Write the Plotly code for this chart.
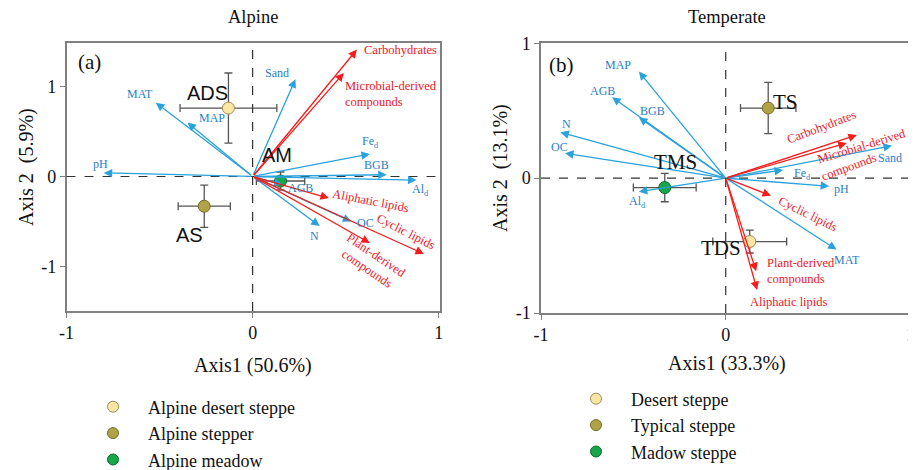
import plotly.graph_objects as go

# ---------------- data ----------------
# Alpine panel (a)
alp_env_names = ["pH", "MAT", "MAP", "Sand", "Fe<sub>d</sub>", "BGB", "Al<sub>d</sub>", "AGB", "N", "OC"]
alp_env_x = [-0.80, -0.52, -0.35, 0.23, 0.63, 0.72, 0.88, 0.16, 0.36, 0.53]
alp_env_y = [0.04, 0.82, 0.60, 1.08, 0.25, 0.02, -0.04, -0.09, -0.55, -0.50]

alp_som_names = ["Carbohydrates", "Microbial-derived compounds", "Aliphatic lipids", "Cyclic lipids", "Plant-derived compounds"]
alp_som_x = [0.56, 0.49, 0.41, 0.92, 0.63]
alp_som_y = [1.41, 1.15, -0.24, -0.86, -0.74]

alp_site_names = ["Alpine desert steppe", "Alpine stepper", "Alpine meadow"]
alp_site_codes = ["ADS", "AS", "AM"]
alp_site_x = [-0.13, -0.26, 0.15]
alp_site_y = [0.76, -0.33, -0.05]
alp_site_ex = [0.26, 0.14, 0.13]
alp_site_ey = [0.39, 0.235, 0.10]

# Temperate panel (b)
tem_env_names = ["MAP", "AGB", "BGB", "N", "OC", "Sand", "Fe<sub>d</sub>", "pH", "MAT", "Al<sub>d</sub>"]
tem_env_x = [-0.47, -0.615, -0.47, -0.895, -0.87, 0.90, 0.31, 0.56, 0.60, -0.47]
tem_env_y = [0.79, 0.60, 0.45, 0.34, 0.185, 0.24, 0.06, -0.06, -0.53, -0.10]

tem_som_names = ["Carbohydrates", "Microbial-derived compounds", "Cyclic lipids", "Plant-derived compounds", "Aliphatic lipids"]
tem_som_x = [0.71, 0.655, 0.245, 0.165, 0.17]
tem_som_y = [0.32, 0.26, -0.13, -0.69, -0.83]

tem_site_names = ["Desert steppe", "Typical steppe", "Madow steppe"]
tem_site_codes = ["TDS", "TS", "TMS"]
tem_site_x = [0.13, 0.23, -0.33]
tem_site_y = [-0.47, 0.52, -0.07]
tem_site_ex = [0.20, 0.15, 0.17]
tem_site_ey = [0.085, 0.19, 0.105]

# ---------------- styles ----------------
SERIF = "Liberation Serif, Times New Roman, serif"
SANS = "Liberation Sans, Arial, sans-serif"
BLUE_ARROW = "#2aa2dc"
BLUE_TEXT = "#2a80c4"
RED_ARROW = "#f51c1c"
RED_TEXT = "#e8202a"
FRAME = "#808080"
fill_cols = ["#fbe6a4", "#b0a246", "#17a64a"]
edge_cols = ["#9c8c5c", "#756c2e", "#0d6a2e"]

# label placement (data coordinates, anchor, angle)
alp_env_lab = {
    "pH": (-0.817, 0.14, "center", 0), "MAT": (-0.605, 0.92, "center", 0),
    "MAP": (-0.22, 0.65, "center", 0), "Sand": (0.13, 1.15, "center", 0),
    "Fe<sub>d</sub>": (0.635, 0.38, "center", 0), "BGB": (0.667, 0.13, "center", 0),
    "Al<sub>d</sub>": (0.90, -0.15, "center", 0), "AGB": (0.255, -0.13, "center", 0),
    "N": (0.33, -0.66, "center", 0), "OC": (0.604, -0.52, "center", 0),
}
alp_som_lab = {
    "Carbohydrates": (0.587, 1.405, "left", 0, "Carbohydrates"),
    "Microbial-derived compounds": (0.484, 0.92, "left", 0, "Microbial-derived<br>compounds"),
    "Aliphatic lipids": (0.634, -0.267, "center", 11, "Aliphatic lipids"),
    "Cyclic lipids": (0.825, -0.617, "center", 27, "Cyclic lipids"),
    "Plant-derived compounds": (0.64, -0.947, "center", 34, "Plant-derived<br>compounds"),
}
alp_code_lab = {"ADS": (-0.242, 0.928), "AS": (-0.337, -0.65), "AM": (0.13, 0.239)}

tem_env_lab = {
    "MAP": (-0.584, 0.84, "center", 0), "AGB": (-0.668, 0.647, "center", 0),
    "BGB": (-0.396, 0.499, "center", 0), "N": (-0.863, 0.40, "center", 0),
    "OC": (-0.902, 0.234, "center", 0), "Sand": (0.889, 0.148, "center", 0),
    "Fe<sub>d</sub>": (0.413, 0.031, "center", 0), "pH": (0.629, -0.082, "center", 0),
    "MAT": (0.656, -0.607, "center", 0), "Al<sub>d</sub>": (-0.477, -0.174, "center", 0),
}
tem_som_lab = [
    (0.519, 0.38, "center", -21, "Carbohydrates"),
    (0.74, 0.235, "center", -17, "Microbial-derived"),
    (0.667, 0.085, "center", -20, "compounds"),
    (0.444, -0.266, "center", 26, "Cyclic lipids"),
    (0.212, -0.687, "left", 0, "Plant-derived<br>compounds"),
    (0.341, -0.916, "center", 0, "Aliphatic lipids"),
]
tem_code_lab = {"TDS": (-0.027, -0.52), "TS": (0.323, 0.567), "TMS": (-0.27, 0.122)}

# The page body has an 8px margin; the figure is sized to fit the 916x470 window.
OFF = 8
W, H = 916 - OFF, 470 - OFF


def px_x(p):
    return (p - OFF) / W


def px_y(p):
    return (H - (p - OFF)) / H


fig = go.Figure()
annotations = []
shapes = []


def add_arrows(xs, ys, color, xref, yref):
    for x, y in zip(xs, ys):
        annotations.append(dict(
            x=x, y=y, ax=0, ay=0, xref=xref, yref=yref, axref=xref, ayref=yref,
            text="", showarrow=True, arrowhead=2, arrowsize=1.3, arrowwidth=1.3,
            arrowcolor=color, standoff=0, startstandoff=0))


def add_text(x, y, text, color, size, xref, yref, xanchor="center", angle=0, family=SERIF, align="center"):
    annotations.append(dict(
        x=x, y=y, xref=xref, yref=yref, text=text, showarrow=False,
        font=dict(family=family, size=size, color=color), xanchor=xanchor,
        yanchor="middle", textangle=angle, align=align))


# ---- panel a ----
add_arrows(alp_env_x, alp_env_y, BLUE_ARROW, "x", "y")
add_arrows(alp_som_x, alp_som_y, RED_ARROW, "x", "y")
for n in alp_env_names:
    lx, ly, anc, ang = alp_env_lab[n]
    add_text(lx, ly, n, BLUE_TEXT, 12, "x", "y", anc, ang)
for n in alp_som_names:
    lx, ly, anc, ang, t = alp_som_lab[n]
    add_text(lx, ly, t, RED_TEXT, 12.5, "x", "y", anc, ang, align="left" if anc == "left" else "center")
for c in alp_site_codes:
    lx, ly = alp_code_lab[c]
    add_text(lx, ly, c, "#111111", 20, "x", "y", family=SANS)

for i in range(3):
    fig.add_trace(go.Scatter(
        x=[alp_site_x[i]], y=[alp_site_y[i]], mode="markers", xaxis="x", yaxis="y",
        error_x=dict(type="data", array=[alp_site_ex[i]], color="#555555", thickness=1.3, width=4),
        error_y=dict(type="data", array=[alp_site_ey[i]], color="#555555", thickness=1.3, width=4),
        marker=dict(size=12, color=fill_cols[i], line=dict(color=edge_cols[i], width=1)),
        showlegend=False, hoverinfo="skip"))
for i in range(3):
    fig.add_trace(go.Scatter(
        x=[None], y=[None], mode="markers", name=alp_site_names[i], legend="legend",
        marker=dict(size=11, color=fill_cols[i], line=dict(color=edge_cols[i], width=1))))

# ---- panel b ----
add_arrows(tem_env_x, tem_env_y, BLUE_ARROW, "x2", "y2")
add_arrows(tem_som_x, tem_som_y, RED_ARROW, "x2", "y2")
for n in tem_env_names:
    lx, ly, anc, ang = tem_env_lab[n]
    add_text(lx, ly, n, BLUE_TEXT, 12, "x2", "y2", anc, ang)
for lx, ly, anc, ang, t in tem_som_lab:
    add_text(lx, ly, t, RED_TEXT, 12.5, "x2", "y2", anc, ang, align="left" if anc == "left" else "center")
for c in tem_site_codes:
    lx, ly = tem_code_lab[c]
    add_text(lx, ly, c, "#111111", 21, "x2", "y2")

for i in range(3):
    fig.add_trace(go.Scatter(
        x=[tem_site_x[i]], y=[tem_site_y[i]], mode="markers", xaxis="x2", yaxis="y2",
        error_x=dict(type="data", array=[tem_site_ex[i]], color="#555555", thickness=1.3, width=4),
        error_y=dict(type="data", array=[tem_site_ey[i]], color="#555555", thickness=1.3, width=4),
        marker=dict(size=12, color=fill_cols[i], line=dict(color=edge_cols[i], width=1)),
        showlegend=False, hoverinfo="skip"))
for i in range(3):
    fig.add_trace(go.Scatter(
        x=[None], y=[None], mode="markers", name=tem_site_names[i], legend="legend2",
        marker=dict(size=11, color=fill_cols[i], line=dict(color=edge_cols[i], width=1))))

# dashed zero lines
for xr, yr in (("x", "y"), ("x2", "y2")):
    shapes.append(dict(type="line", xref=xr, yref=yr + " domain", x0=0, x1=0, y0=0, y1=1,
                       line=dict(color="#333333", width=1.2, dash="dash")))
    shapes.append(dict(type="line", xref=xr + " domain", yref=yr, x0=0, x1=1, y0=0, y1=0,
                       line=dict(color="#333333", width=1.2, dash="dash")))

# panel tags, titles, axis titles
add_text(-0.874, 1.276, "(a)", "#111111", 21, "x", "y")
add_text(-0.889, 0.84, "(b)", "#111111", 21, "x2", "y2")
add_text(px_x(252.6), px_y(17), "Alpine", "#111111", 18.5, "paper", "paper")
add_text(px_x(726.7), px_y(17), "Temperate", "#111111", 18.5, "paper", "paper")
add_text(px_x(252.6), px_y(365), "Axis1 (50.6%)", "#111111", 20, "paper", "paper")
add_text(px_x(726.7), px_y(363), "Axis1 (33.3%)", "#111111", 20, "paper", "paper")
add_text(px_x(27), px_y(167), "Axis 2\u00a0\u00a0(5.9%)", "#111111", 20, "paper", "paper", angle=-90)
add_text(px_x(500), px_y(168), "Axis 2\u00a0\u00a0(13.1%)", "#111111", 20, "paper", "paper", angle=-90)

axis_common = dict(showgrid=False, zeroline=False, showline=True, mirror=True, linecolor=FRAME,
                   linewidth=1.5, ticks="outside", ticklen=5, tickcolor=FRAME, tickwidth=1.2,
                   tickfont=dict(family=SERIF, size=18, color="#111111"), tickvals=[-1, 0, 1],
                   ticktext=["-1", "0", "1"], fixedrange=True)

leg_common = dict(font=dict(family=SERIF, size=18, color="#111111"), bgcolor="rgba(0,0,0,0)",
                  xanchor="left", yanchor="top", itemwidth=60, tracegroupgap=0, itemclick=False)

fig.update_layout(
    width=W, height=H, margin=dict(l=0, r=0, t=0, b=0, autoexpand=False),
    paper_bgcolor="white", plot_bgcolor="white",
    xaxis=dict(domain=[px_x(66.5), px_x(439.5)], range=[-1, 1.004], anchor="y", **axis_common),
    yaxis=dict(domain=[px_y(311), px_y(43)], range=[-1.494, 1.483], anchor="x", **axis_common),
    xaxis2=dict(domain=[px_x(541), px_x(911)], range=[-1, 1.003], anchor="y2", **axis_common),
    yaxis2=dict(domain=[px_y(313), px_y(43.3)], range=[-1, 1], anchor="x2", **axis_common),
    legend=dict(x=px_x(78), y=px_y(388.5), **leg_common),
    legend2=dict(x=px_x(561), y=px_y(380.5), **leg_common),
    annotations=annotations, shapes=shapes,
)

fig.write_html("out.html")
